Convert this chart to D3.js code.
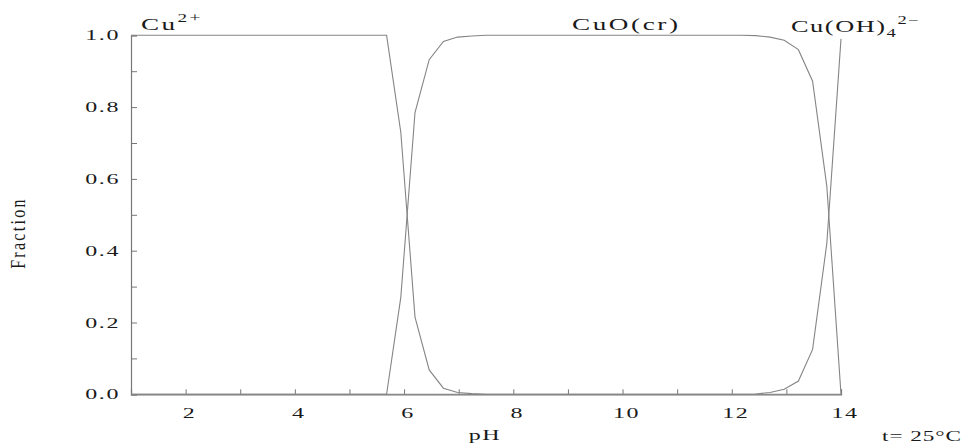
<!DOCTYPE html>
<html>
<head>
<meta charset="utf-8">
<script src="https://cdn.jsdelivr.net/npm/d3@7/dist/d3.min.js"></script>
<style>
  html, body { margin: 0; padding: 0; background: #fff; }
  svg { display: block; }
  text { font-family: "Liberation Serif", "DejaVu Serif", serif; fill: #1a1a1a; }
</style>
</head>
<body>
<svg id="chart" width="972" height="443"></svg>
<script>
// ---- data ----
const pH = [1, 2, 3, 4, 5, 5.42, 5.68, 5.94, 6.20, 6.46, 6.72, 6.98, 7.24, 7.50,
            8, 9, 10, 11, 12, 12.18, 12.44, 12.70, 12.96, 13.22, 13.48, 13.74, 14.0];
const cu2 = [1, 1, 1, 1, 1, 1, 1, 0.73, 0.215, 0.068, 0.017, 0.005, 0.002, 0,
             0, 0, 0, 0, 0, 0, 0, 0, 0, 0, 0, 0, 0];
const cuo = [0, 0, 0, 0, 0, 0, 0, 0.27, 0.785, 0.932, 0.983, 0.995, 0.998, 1,
             1, 1, 1, 1, 1, 1, 0.999, 0.995, 0.986, 0.96, 0.872, 0.58, 0];
const cuoh4 = [0, 0, 0, 0, 0, 0, 0, 0, 0, 0, 0, 0, 0, 0,
               0, 0, 0, 0, 0, 0, 0.001, 0.005, 0.014, 0.037, 0.125, 0.42, 0.99];
const xTicks = [1, 2, 3, 4, 5, 6, 7, 8, 9, 10, 11, 12, 13, 14];
const xTickLabels = ["2", "4", "6", "8", "10", "12", "14"];
const yTicks = [0, 0.1, 0.2, 0.3, 0.4, 0.5, 0.6, 0.7, 0.8, 0.9, 1.0];
const yTickLabels = ["0.0", "0.2", "0.4", "0.6", "0.8", "1.0"];

// ---- layout ----
const svg = d3.select("#chart");
const x = d3.scaleLinear().domain([1, 14]).range([131, 841]);
const y = d3.scaleLinear().domain([0, 1]).range([394.3, 35.3]);
const SX = 1.6;           // horizontal stretch of the lettering in the reference
const axisColor = "#777";
const lineColor = "#858585";

// axes
const yAxis = d3.axisLeft(y).tickValues(yTicks).tickSize(-6).tickFormat("");
const gy = svg.append("g").attr("transform", `translate(${x(1)},0)`).call(yAxis);
const xAxis = d3.axisBottom(x).tickValues(xTicks).tickSize(-5).tickFormat("");
const gx = svg.append("g").attr("transform", `translate(0,${y(0)})`).call(xAxis);
[gx, gy].forEach(g => {
  g.select(".domain").attr("stroke", axisColor).attr("stroke-width", 1.2);
  g.selectAll(".tick line").attr("stroke", axisColor).attr("stroke-width", 1);
});

function stretchedText(px, py, anchor, size, str, sx, ls) {
  return svg.append("text")
    .attr("transform", `translate(${px},${py}) scale(${sx || SX},1)`)
    .attr("text-anchor", anchor)
    .style("font-size", size + "px")
    .style("letter-spacing", (ls === undefined ? 1 : ls) + "px")
    .text(str);
}

// y tick labels
yTickLabels.forEach(s => {
  stretchedText(120, y(+s) + 5, "end", 15, s);
});
// x tick labels
xTickLabels.forEach(s => {
  stretchedText(x(+s) + 4, 418, "middle", 15, s);
});

// axis titles
stretchedText(485, 440, "middle", 15, "pH");
stretchedText(882, 441, "start", 15, "t= 25°C", 1.55, 0.6);
svg.append("text")
  .attr("transform", "translate(25,233) scale(1.35,1) rotate(-90)")
  .attr("text-anchor", "middle")
  .style("font-size", "16px")
  .style("letter-spacing", "2.3px")
  .text("Fraction");

// curves
const line = d3.line().x(d => x(d[0])).y(d => y(d[1]));
[cu2, cuo, cuoh4].forEach(series => {
  svg.append("path")
    .datum(pH.map((p, i) => [p, series[i]]))
    .attr("fill", "none")
    .attr("stroke", lineColor)
    .attr("stroke-width", 1.1)
    .attr("d", line);
});

// species labels
const l1 = stretchedText(141, 30, "start", 17, "Cu", SX, 1.5);
l1.append("tspan").attr("dy", -8).style("font-size", "12px").text("2+");

stretchedText(572, 30, "start", 17, "CuO(cr)", SX, 1.6);

const l3 = svg.append("text")
  .attr("transform", `translate(791,32) scale(1.55,1)`)
  .style("font-size", "17px")
  .style("letter-spacing", "1px");
l3.append("tspan").text("Cu(OH)");
l3.append("tspan").attr("dy", 5).style("font-size", "12px").text("4");
l3.append("tspan").attr("dy", -13).style("font-size", "12px").text("2−");
</script>
</body>
</html>
